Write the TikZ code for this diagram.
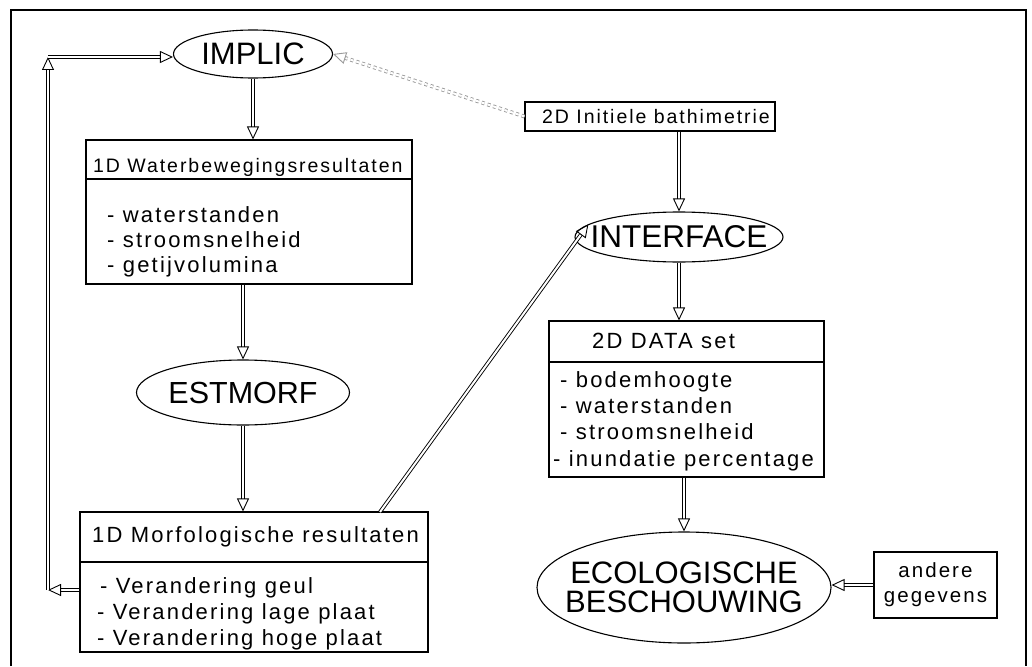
\documentclass[tikz,border=0pt]{standalone}
\usepackage{fontspec}
\newfontfamily\boxfont{Liberation Sans}[LetterSpace=10]
\newfontfamily\ovalfont{Liberation Sans}
\usetikzlibrary{arrows.meta}
\usetikzlibrary{shapes.geometric}
\tikzset{
 box/.style={draw, line width=1.1pt, rectangle, inner sep=0pt},
 oval/.style={draw, line width=1.1pt, ellipse, inner xsep=-20pt, inner ysep=0pt, align=center},
 txt/.style={anchor=base west, inner sep=0pt, font=\boxfont\fontsize{22}{24}\selectfont},
 dbl/.style={double, double distance=2pt, line width=0.9pt, -{Triangle[open,length=13pt,width=12pt,line width=0.9pt]}},
}

\begin{document}
\begin{tikzpicture}[x=1pt,y=-1pt]
\useasboundingbox (0,0) rectangle (1032,666);
\draw[line width=2.5pt] (11,666) -- (11,10) -- (1026,10) -- (1026,666);

% ellipses
\node[oval, minimum width=159pt, minimum height=48pt, font=\ovalfont\fontsize{31}{31}\selectfont] (implic) at (253,54) {IMPLIC};
\node[oval, minimum width=213pt, minimum height=65pt, font=\ovalfont\fontsize{30.5}{30}\selectfont] (estmorf) at (243,392.5) {ESTMORF};
\node[oval, minimum width=208pt, minimum height=50pt, font=\ovalfont\fontsize{31.5}{32}\selectfont] (interface) at (679,237) {INTERFACE};
\node[oval, minimum width=294pt, minimum height=111pt, font=\ovalfont\fontsize{31}{29}\selectfont] (eco) at (684,587.5) {ECOLOGISCHE\\BESCHOUWING};

% 1D waterbeweging
\node[box, minimum width=326pt, minimum height=144pt] (wbox) at (249,212) {};
\draw[line width=1.1pt] (wbox.west |- 0,179) -- (wbox.east |- 0,179);
\node[txt, font=\boxfont\fontsize{19.5}{24}\selectfont] (wtitle) at (93,172) {1D Waterbewegingsresultaten};
\foreach \t [count=\i] in {waterstanden,stroomsnelheid,getijvolumina}
  \node[txt] (w\i) at (107,197+25*\i) {- \t};

% 1D morfologie
\node[box, minimum width=348pt, minimum height=140pt] (mbox) at (254,582) {};
\draw[line width=1.1pt] (mbox.west |- 0,562) -- (mbox.east |- 0,562);
\node[txt] (mtitle) at (92,542) {1D Morfologische resultaten};
\foreach \t [count=\i] in {geul,lage plaat,hoge plaat}
  \node[txt] (m\i) at ({97+3*(\i==1)},567+26*\i) {- Verandering \t};

% 2D data
\node[box, minimum width=275pt, minimum height=156pt] (dbox) at (686.5,399) {};
\draw[line width=1.1pt] (dbox.west |- 0,362) -- (dbox.east |- 0,362);
\node[txt] (dtitle) at (592,348) {2D DATA set};
\foreach \t [count=\i] in {bodemhoogte,waterstanden,stroomsnelheid}
  \node[txt] (d\i) at (560,361+26*\i) {- \t};
\node[txt] (d4) at (553,466) {- inundatie percentage};

\node[box, minimum width=250pt, minimum height=29pt] (bbox) at (650,116.5) {};
\node[txt, font=\boxfont\fontsize{19.5}{24}\selectfont] (btitle) at (542,123) {2D Initiele bathimetrie};
\node[box, minimum width=123pt, minimum height=66pt, align=center, font=\boxfont\fontsize{20.5}{25}\selectfont] (abox) at (935.5,585) {andere\\gegevens};

% connections
\draw[dbl] (implic.south) -- (implic.south |- wbox.north);
\draw[dbl] (estmorf.north |- wbox.south) -- (estmorf.north);
\draw[dbl] (estmorf.south) -- (estmorf.south |- mbox.north);
\draw[dbl] (interface.north |- bbox.south) -- (interface.north);
\draw[dbl] (interface.south) -- (interface.south |- dbox.north);
\draw[dbl] (eco.north |- dbox.south) -- (eco.north);
\draw[dbl] (abox.west) -- (abox.west -| eco.east);
\coordinate (mtop) at (380,512);
\draw[dbl] (mtop) -- (interface.172);
\coordinate (fbl) at (48,590);
\coordinate (fbt) at (48,57);
\draw[dbl] (mbox.west |- fbl) -- (fbl);
\draw[dbl] (fbl) -- (fbt);
\draw[dbl] (fbt) -- (implic.west |- fbt);
\draw[dbl, dashed, gray!80] (bbox.west) -- (implic.east);
\end{tikzpicture}
\end{document}
